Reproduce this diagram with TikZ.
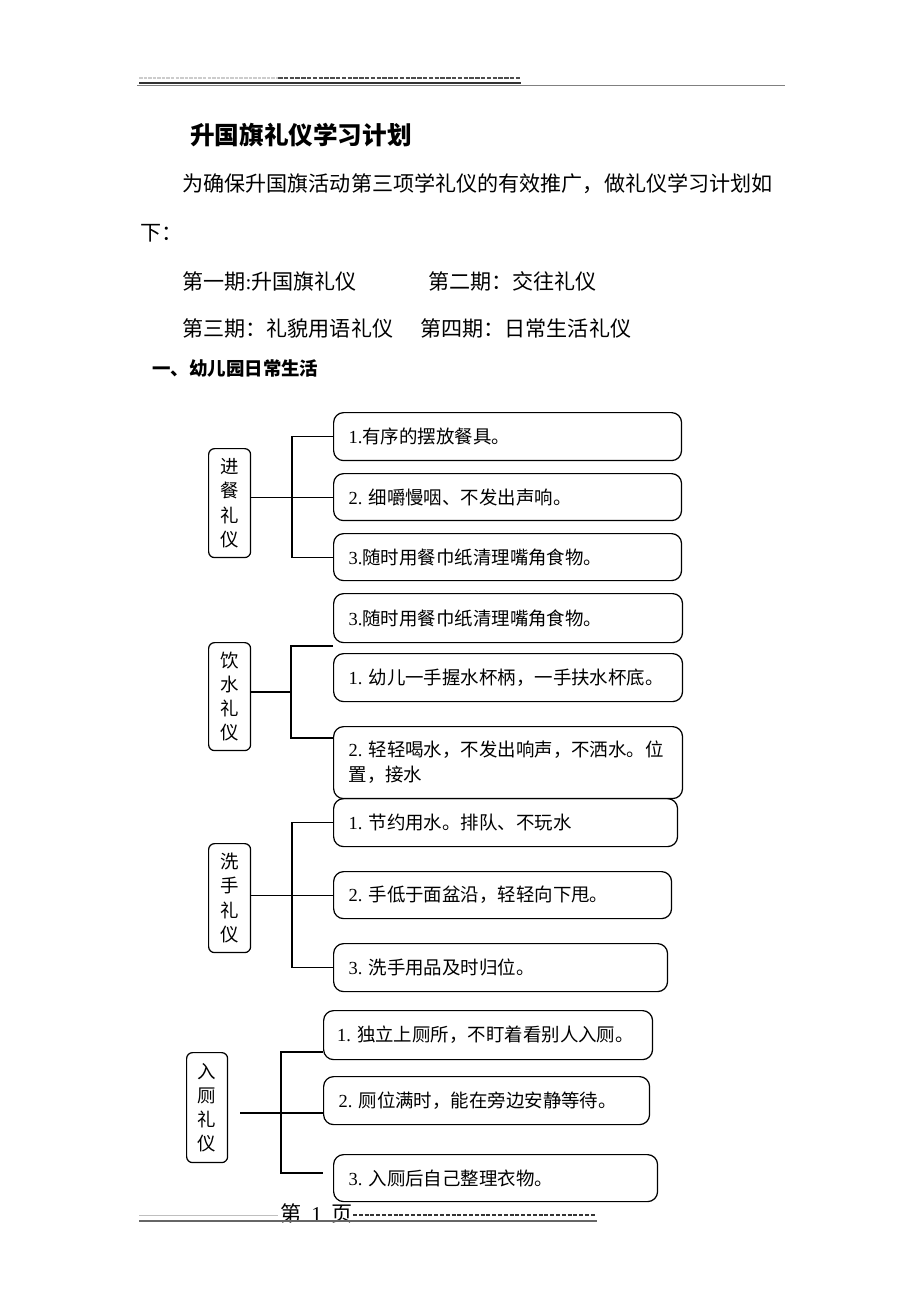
\documentclass[tikz,border=0pt]{standalone}
\usepackage{fontspec}
\setmainfont{Liberation Serif}
\newfontfamily\cjk{Noto Sans CJK SC}
\newcommand{\zh}[1]{{\cjk #1}}
\pgfdeclarelayer{edgelayer}
\pgfdeclarelayer{nodelayer}
\pgfsetlayers{edgelayer,nodelayer,main}
\tikzstyle{bodytext}=[inner sep=0pt, anchor=west, font=\fontsize{12}{14}\selectfont]
\tikzstyle{headbox}=[draw=black, line width=0.7pt, rounded corners=0.12cm, anchor=north west, minimum width=0.84cm, minimum height=2.18cm, inner sep=0pt, align=center, font=\fontsize{10.5}{13.8}\selectfont\cjk]
\tikzstyle{itembox}=[draw=black, line width=0.7pt, rounded corners=0.2cm, anchor=north west, inner xsep=0.3cm, inner ysep=0pt, align=left, font=\fontsize{10.5}{14.2}\selectfont]
\tikzstyle{branch}=[draw=black, line width=0.6pt]

\begin{document}
\begin{tikzpicture}[x=0.02cm, y=-0.02cm]
	\useasboundingbox (0,0) rectangle (920,1302);
	\begin{pgfonlayer}{nodelayer}
		% text of the page
		\node [style=bodytext, font=\fontsize{14}{16}\selectfont\bfseries\cjk] (0) at (190, 135) {升国旗礼仪学习计划};
		\node [style=bodytext] (1) at (182, 184) {\zh{为确保升国旗活动第三项学礼仪的有效推广，做礼仪学习计划如}};
		\node [style=bodytext] (2) at (140, 233) {\zh{下：}};
		\node [style=bodytext] (3) at (182, 281) {\zh{第一期}:\zh{升国旗礼仪}};
		\node [style=bodytext] (4) at (428, 281) {\zh{第二期：交往礼仪}};
		\node [style=bodytext] (5) at (182, 328) {\zh{第三期：礼貌用语礼仪}};
		\node [style=bodytext] (6) at (420, 328) {\zh{第四期：日常生活礼仪}};
		\node [style=bodytext, font=\fontsize{10.5}{12}\selectfont\bfseries\cjk] (7) at (152, 369) {一、幼儿园日常生活};
		% meals
		\node [style=headbox] (8) at (208, 448) {进\\餐\\礼\\仪};
		\node [style=itembox, text width=6.36cm, minimum height=0.96cm] (9) at (333, 412) {1.\zh{有序的摆放餐具。}};
		\node [style=itembox, text width=6.36cm, minimum height=0.94cm] (10) at (333, 473) {2.~\zh{细嚼慢咽、不发出声响。}};
		\node [style=itembox, text width=6.36cm, minimum height=0.94cm] (11) at (333, 533) {3.\zh{随时用餐巾纸清理嘴角食物。}};
		% drinking
		\node [style=headbox, minimum height=2.16cm] (12) at (208, 642) {饮\\水\\礼\\仪};
		\node [style=itembox, text width=6.38cm, minimum height=0.98cm] (13) at (333, 593) {3.\zh{随时用餐巾纸清理嘴角食物。}};
		\node [style=itembox, text width=6.38cm, minimum height=0.96cm] (14) at (333, 653) {1.~\zh{幼儿一手握水杯柄，一手扶水杯底。}};
		\node [style=itembox, text width=6.38cm, minimum height=1.44cm] (15) at (333, 726) {2.~\zh{轻轻喝水，不发出响声，不洒水。位}\\\zh{置，接水}};
		% washing
		\node [style=headbox] (16) at (208, 843) {洗\\手\\礼\\仪};
		\node [style=itembox, text width=6.28cm, minimum height=0.96cm] (17) at (333, 798) {1.~\zh{节约用水。排队、不玩水}};
		\node [style=itembox, text width=6.16cm, minimum height=0.94cm] (18) at (333, 871) {2.~\zh{手低于面盆沿，轻轻向下甩。}};
		\node [style=itembox, text width=6.08cm, minimum height=0.96cm] (19) at (333, 943) {3.~\zh{洗手用品及时归位。}};
		% toilet
		\node [style=headbox, minimum width=0.82cm, minimum height=2.2cm] (20) at (186, 1052) {入\\厕\\礼\\仪};
		\node [style=itembox, inner xsep=0.27cm, text width=6.04cm, minimum height=0.98cm] (21) at (323, 1010) {1.~\zh{独立上厕所，不盯着看别人入厕。}};
		\node [style=itembox, text width=5.92cm, minimum height=0.96cm] (22) at (323, 1076) {2.~\zh{厕位满时，能在旁边安静等待。}};
		\node [style=itembox, text width=5.88cm, minimum height=0.94cm] (23) at (333, 1154) {3.~\zh{入厕后自己整理衣物。}};
		% page number
		\node [style=bodytext] (24) at (280, 1213) {\zh{第}\hspace{0.2cm}1\hspace{0.2cm}\zh{页}};
		\coordinate (25) at (292, 497);
		\coordinate (26) at (333, 646);
		\coordinate (27) at (291, 692);
		\coordinate (28) at (333, 738);
		\coordinate (29) at (292, 896);
		\coordinate (30) at (240, 1113);
		\coordinate (31) at (281, 1113);
		\coordinate (32) at (323, 1052);
		\coordinate (33) at (323, 1173);
	\end{pgfonlayer}
	\begin{pgfonlayer}{edgelayer}
		\draw [style=branch] (8.east |- 10.west) to (10.west);
		\draw [style=branch] (9.west) -| (25) |- (11.west);
		\draw [style=branch] (12.east |- 27) to (27);
		\draw [style=branch] (26) -| (27) |- (28);
		\draw [style=branch] (16.east |- 18.west) to (18.west);
		\draw [style=branch] (17.west) -| (29) |- (19.west);
		\draw [style=branch] (30) to (22.west |- 30);
		\draw [style=branch] (32) -| (31) |- (33);
	\end{pgfonlayer}
	% header and footer rules
	\draw [gray!40, line width=0.6pt, dash pattern=on 2pt off 0.6pt] (139, 78) -- (278, 78);
	\draw [black!70, line width=1.2pt, dash pattern=on 0.09cm off 0.026cm] (278, 78) -- (521, 78);
	\draw [black!80, line width=0.7pt] (139, 83) -- (521, 83);
	\draw [black!50, line width=0.8pt] (137, 85.5) -- (785, 85.5);
	\draw [gray!50, line width=0.4pt] (139, 1215) -- (278, 1215);
	\draw [black!80, line width=0.6pt, dash pattern=on 0.08cm off 0.036cm] (353, 1215) -- (596, 1215);
	\draw [black!60, line width=0.8pt] (139, 1221) -- (597, 1221);
\end{tikzpicture}
\end{document}
